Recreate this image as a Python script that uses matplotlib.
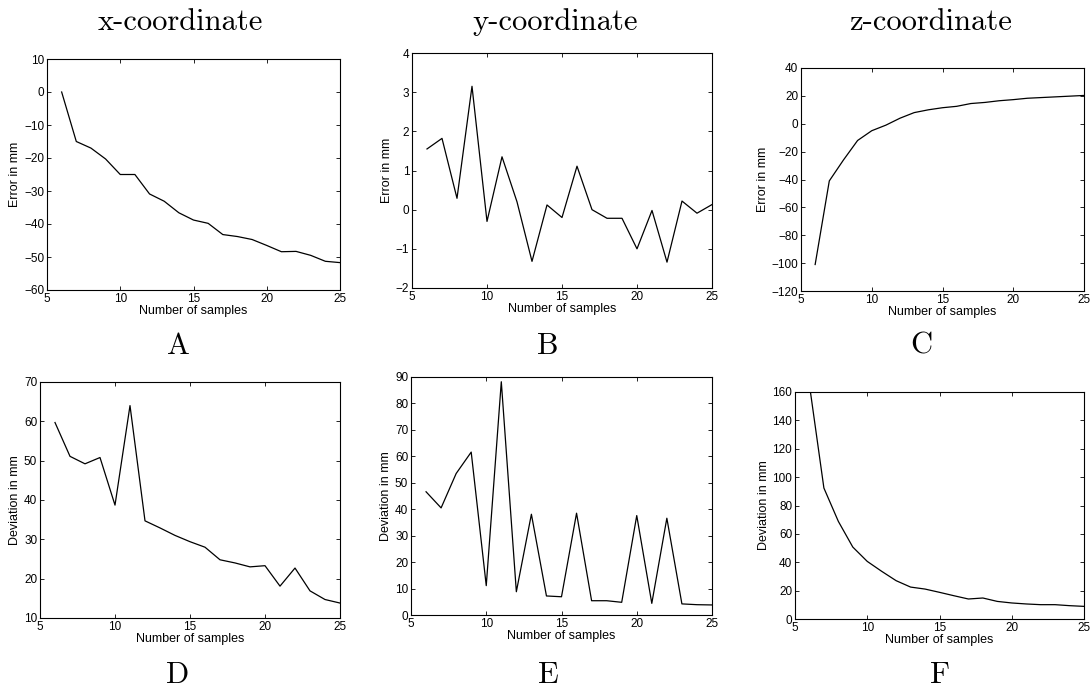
import matplotlib
matplotlib.use("Agg")
import matplotlib.pyplot as plt

# samples 6..25
samples = list(range(6, 26))

err_x = [0, -15, -17, -20.3, -25, -25, -30.9, -33.1, -36.6, -38.8,
         -39.8, -43.2, -43.8, -44.7, -46.5, -48.4, -48.3, -49.5, -51.3, -51.7]
err_y = [1.55, 1.82, 0.29, 3.15, -0.3, 1.35, 0.2, -1.32, 0.12, -0.2,
         1.11, 0.0, -0.22, -0.22, -1.0, -0.02, -1.34, 0.22, -0.09, 0.13]
err_z = [-101, -41, -26, -12, -5, -1, 4, 8, 10, 11.5,
         12.5, 14.5, 15.3, 16.5, 17.3, 18.3, 18.8, 19.3, 19.8, 20.3]

dev_x = [59.7, 51.1, 49.2, 50.8, 38.7, 64, 34.7, 32.9, 31.0, 29.4,
         28.0, 24.8, 24.0, 23.0, 23.3, 18.1, 22.7, 16.9, 14.7, 13.8]
dev_y = [46.6, 40.5, 53.5, 61.6, 11.1, 88.2, 8.8, 38.1, 7.2, 6.9,
         38.5, 5.4, 5.4, 4.8, 37.6, 4.4, 36.6, 4.2, 3.9, 3.8]
dev_z = [165, 92.3, 68.8, 50.7, 40.6, 33.6, 27, 22.5, 21.1, 18.8,
         16.4, 14.1, 14.8, 12.4, 11.3, 10.6, 10.1, 10.1, 9.4, 8.9]

col_titles = ["x-coordinate", "y-coordinate", "z-coordinate"]
letters = ["A", "B", "C", "D", "E", "F"]

W, H = 1090, 691
fig = plt.figure(figsize=(W / 100, H / 100), dpi=100)

# pixel boxes: left, top, right, bottom
boxes = [
    (47, 59, 340, 290),
    (412, 53, 712, 288),
    (801, 68, 1084, 291),
    (40, 382, 340, 618),
    (411, 377, 712, 615),
    (795, 392, 1084, 619),
]
letter_pos = [(178, 346), (548, 346), (921, 346), (178, 675), (548, 675), (940, 675)]
title_x = [180, 555, 930]

series = [err_x, err_y, err_z, dev_x, dev_y, dev_z]
ylims = [(-60, 10), (-2, 4), (-120, 40), (10, 70), (0, 90), (0, 160)]
ysteps = [10, 1, 20, 10, 10, 20]
ylabels = ["Error in mm"] * 3 + ["Deviation in mm"] * 3

sans = "Liberation Sans"
serif = "cmr10"

for i, (l, t, r, b) in enumerate(boxes):
    ax = fig.add_axes([l / W, 1 - b / H, (r - l) / W, (b - t) / H])
    ax.plot(samples, series[i], color="black", lw=0.9)
    ax.set_xlim(5, 25)
    lo, hi = ylims[i]
    ax.set_ylim(lo, hi)
    ax.set_xticks(range(5, 26, 5))
    ax.set_yticks([lo + k * ysteps[i] for k in range(int(round((hi - lo) / ysteps[i])) + 1)])
    ax.tick_params(direction="in", top=True, right=True, length=3, width=0.6,
                   labelsize=8.5, pad=2)
    for lab in ax.get_xticklabels() + ax.get_yticklabels():
        lab.set_fontfamily(sans)
    for sp in ax.spines.values():
        sp.set_linewidth(0.8)
    ax.set_xlabel("Number of samples", fontsize=9, fontfamily=sans, labelpad=0)
    ax.set_ylabel(ylabels[i], fontsize=9, fontfamily=sans, labelpad=2)
    lx, ly = letter_pos[i]
    fig.text(lx / W, 1 - ly / H, letters[i], ha="center", va="center",
             fontsize=22, fontfamily=serif)

for j, title in enumerate(col_titles):
    fig.text(title_x[j] / W, 1 - 22 / H, title, ha="center", va="center",
             fontsize=22, fontfamily=serif)

fig.savefig("out.png", dpi=100)
